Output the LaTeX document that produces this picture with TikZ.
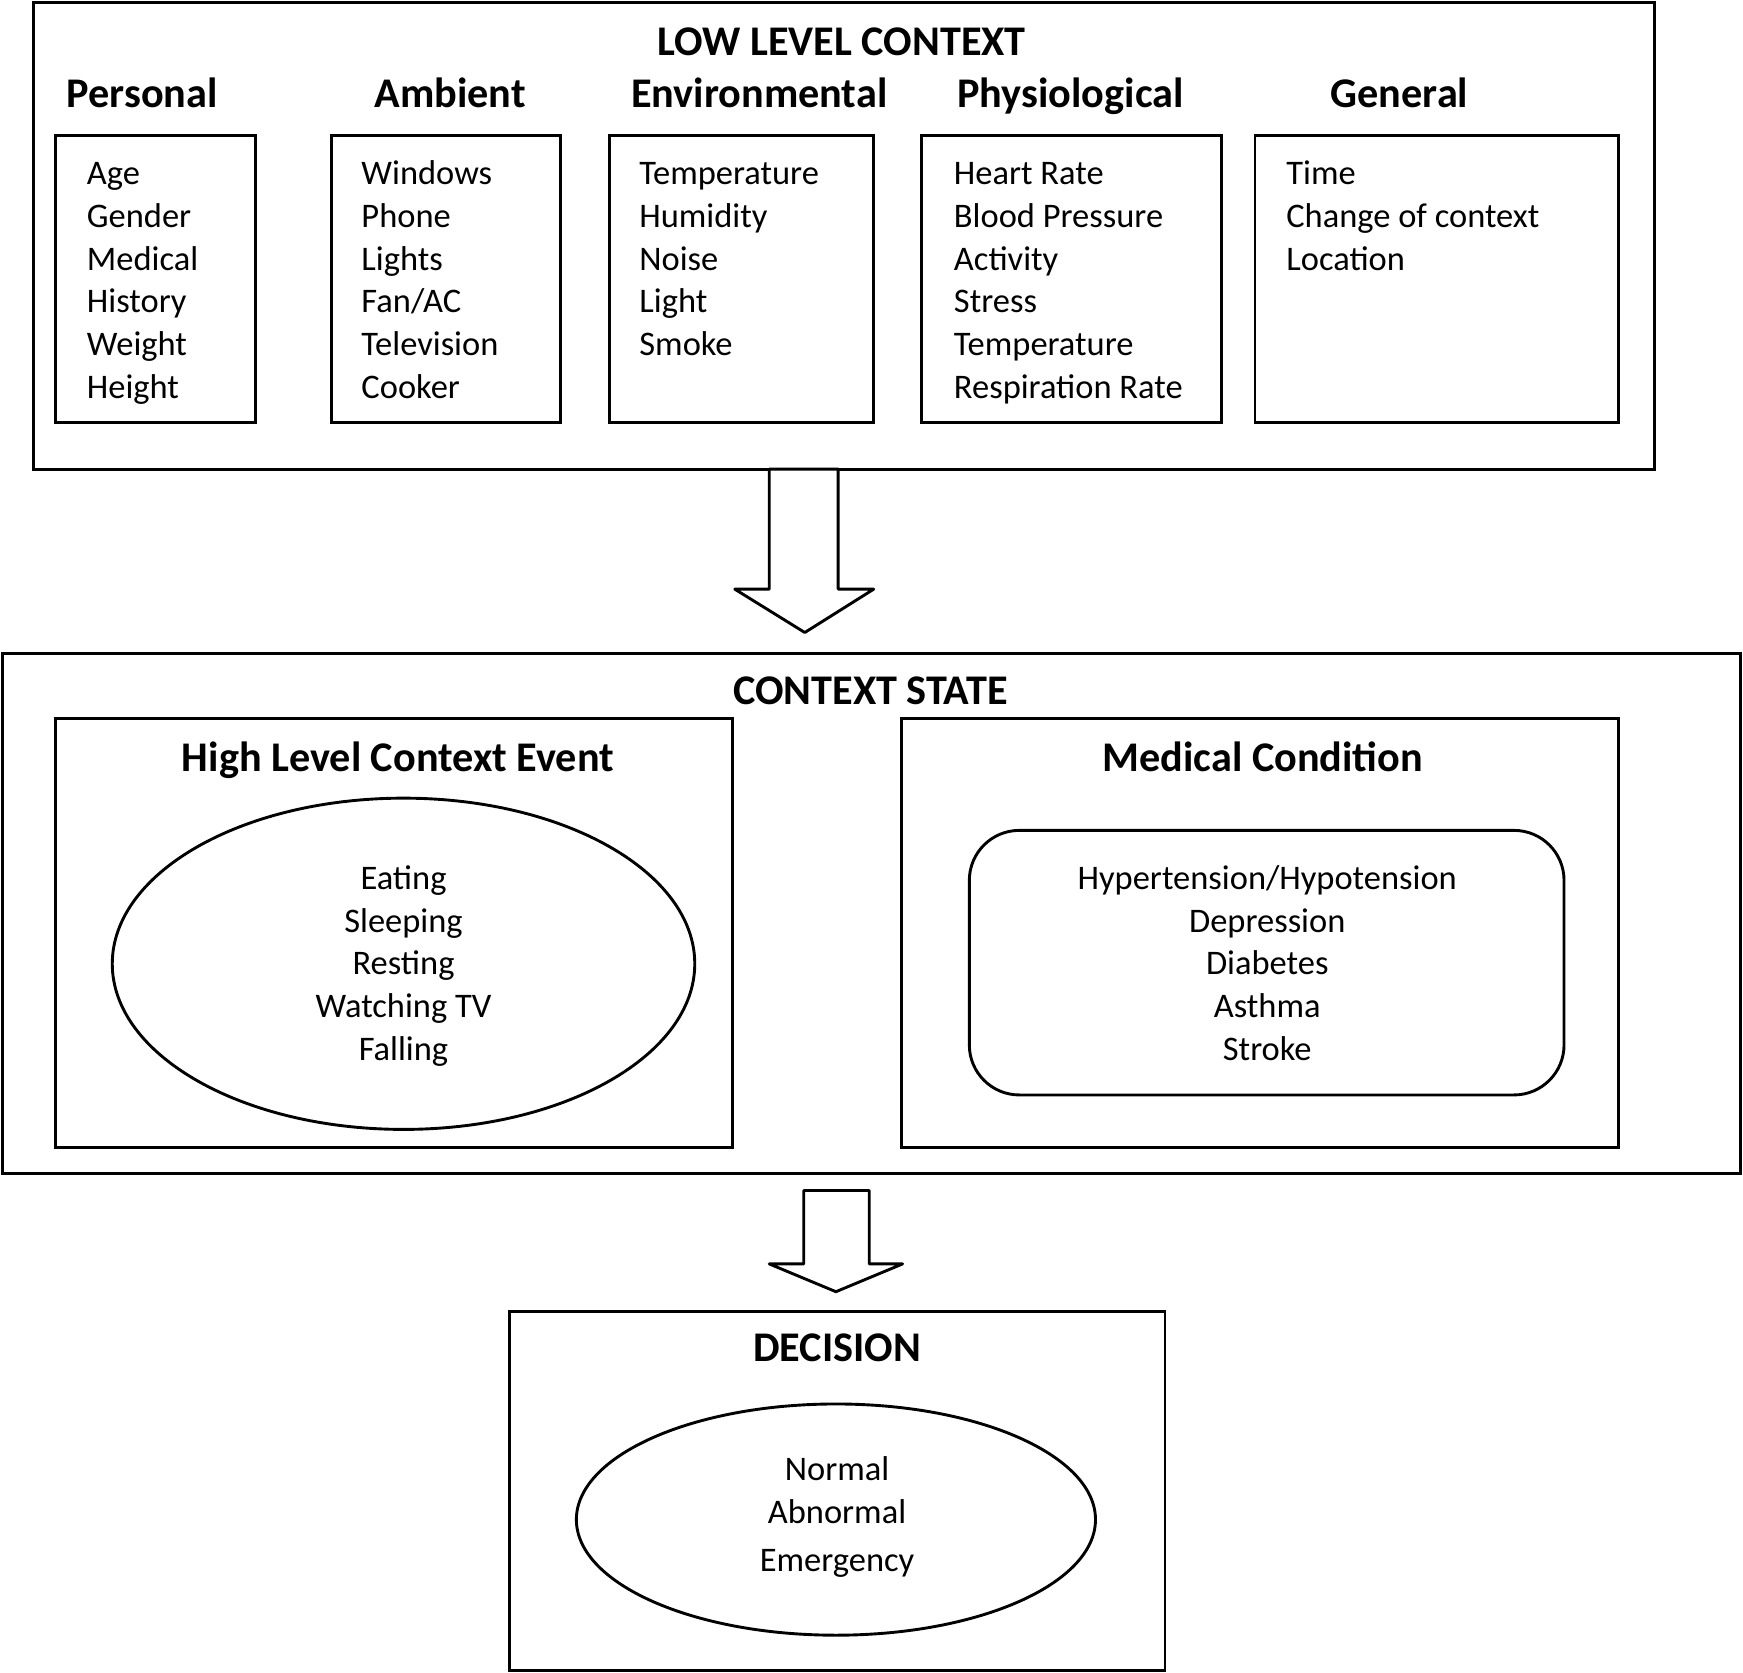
\documentclass[tikz,border=0pt]{standalone}
\usepackage{fontspec}
\setmainfont{Carlito}
\usetikzlibrary{fit,shapes.geometric}
\newcommand{\Lcol}[1]{\begin{tabular}[t]{@{}l@{}}#1\end{tabular}}
\newcommand{\Ccol}[1]{\begin{tabular}[t]{@{}c@{}}#1\end{tabular}}
\begin{document}
\begin{tikzpicture}[x=1pt,y=-1pt,
  box/.style={draw, line width=2.6pt, inner sep=0pt},
  body/.style={inner sep=0pt, font=\fontsize{31}{38.5}\selectfont},
  ttl/.style={inner sep=0pt, anchor=base, font=\fontsize{38}{44}\selectfont\bfseries},
  oval/.style={draw, ellipse, line width=2.6pt, inner sep=0pt},
  blockarrow/.style={draw, line width=2.6pt, fill=white, line join=round}]
\useasboundingbox (0,0) rectangle (1568,1505);

% ---------- LOW LEVEL CONTEXT ----------
\node[box, fit={(30,2) (1488,422)}] (low) {};
\node[ttl] (lowt) at (757,50) {LOW LEVEL CONTEXT};

\node[ttl] (hpers) at (128,97) {Personal};
\node[ttl] (hamb)  at (405,97) {Ambient};
\node[ttl] (henv)  at (683,97) {Environmental};
\node[ttl] (hphy)  at (963,97) {Physiological};
\node[ttl] (hgen)  at (1259,97) {General};

\node[box, fit={(50,122) (230,380)}] (bpers) {};
\node[box, fit={(298,122) (504,380)}] (bamb) {};
\node[box, fit={(548,122) (786,380)}] (benv) {};
\node[box, fit={(829,122) (1099,380)}] (bphy) {};
\node[box, fit={(1129,122) (1456,380)}] (bgen) {};

\node[body, anchor=base west] (tpers) at (78,166)
  {\Lcol{Age\\Gender\\Medical\\History\\Weight\\Height}};
\node[body, anchor=base west] (tamb) at (325,166)
  {\Lcol{Windows\\Phone\\Lights\\Fan/AC\\Television\\Cooker}};
\node[body, anchor=base west] (tenv) at (575,166)
  {\Lcol{Temperature\\Humidity\\Noise\\Light\\Smoke}};
\node[body, anchor=base west] (tphy) at (858,166)
  {\Lcol{Heart Rate\\Blood Pressure\\Activity\\Stress\\Temperature\\Respiration Rate}};
\node[body, anchor=base west] (tgen) at (1157,166)
  {\Lcol{Time\\Change of context\\Location}};

% ---------- arrow 1 ----------
\draw[blockarrow] (692,422) -- (692,530) -- (661,530) -- (724,569)
  -- (786,530) -- (754,530) -- (754,422) -- cycle;

% ---------- CONTEXT STATE ----------
\node[box, fit={(2,588) (1566,1056)}] (state) {};
\node[ttl] (statet) at (783,634) {CONTEXT STATE};

\node[box, fit={(50,646) (659,1032)}] (hlce) {};
\node[ttl] (hlcet) at (358,694) {High Level Context Event};
\node[oval, minimum width=524pt, minimum height=298pt] (evell) at (363,867) {};
\node[body, anchor=base] (evtxt) at (363,800)
  {\Ccol{Eating\\Sleeping\\Resting\\Watching TV\\Falling}};

\node[box, fit={(811,646) (1456,1032)}] (med) {};
\node[ttl] (medt) at (1136,694) {Medical Condition};
\node[box, rounded corners=45pt, fit={(872,747) (1407,985)}] (medrr) {};
\node[body, anchor=base] (medtxt) at (1140,800)
  {\Ccol{Hypertension/Hypotension\\Depression\\Diabetes\\Asthma\\Stroke}};

% ---------- arrow 2 ----------
\draw[blockarrow] (723,1071) -- (723,1137) -- (692,1137) -- (752,1162)
  -- (812,1137) -- (782,1137) -- (782,1071) -- cycle;

% ---------- DECISION ----------
\node[box, fit={(458,1180) (1048,1503)}] (dec) {};
\node[ttl] (dect) at (753,1225) {DECISION};
\node[oval, minimum width=467pt, minimum height=208pt] (decell) at (752,1367) {};
\node[body, anchor=base] (dectxt) at (753,1332)
  {\Ccol{Normal\\Abnormal\\[4.5pt]Emergency}};
\end{tikzpicture}
\end{document}
